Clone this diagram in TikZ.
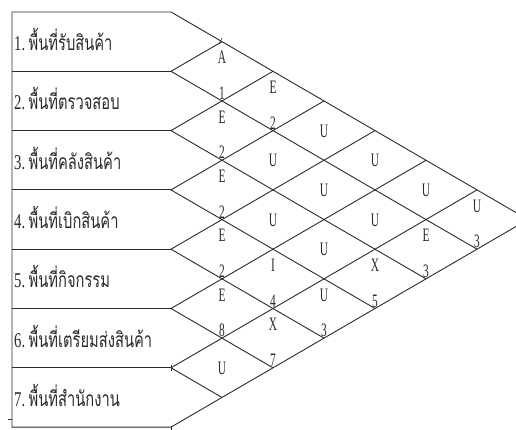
\documentclass[tikz,border=0pt]{standalone}
\usepackage{fontspec}
\setmainfont{Liberation Serif}
\newfontfamily\thaifont[Script=Thai]{Loma}
\definecolor{ink}{HTML}{2A2A2A}
\tikzset{
  gridline/.style={draw=ink, line width=0.9pt},
  cell/.style={inner sep=0pt, text=ink, font=\fontsize{19}{19}\selectfont},
  rowlab/.style={inner sep=0pt, text=ink, anchor=base west, font=\fontsize{21}{21}\selectfont},
}
\newcommand{\rowtext}[2]{\scalebox{0.7}[1]{#1\kern5pt{\thaifont #2}}}
\newcommand{\celltext}[1]{\scalebox{0.6}[1]{#1}}
\begin{document}
\begin{tikzpicture}[x=1pt,y=-1pt]
\useasboundingbox (0,0) rectangle (516,430);
\clip (0,0) rectangle (516,430);
\def\xz{171}\def\yz{12}\def\rh{59.3}\def\dx{51}
% left points and far-left points
\foreach \k in {0,...,7}{
  \coordinate (L\k) at (\xz, {\yz+\rh*\k});
  \coordinate (R\k) at (12, {\yz+\rh*\k});
  \coordinate (U\k) at ({\xz+\dx*\k}, {\yz+\rh*\k/2});
  \coordinate (D\k) at ({\xz+\dx*(7-\k)}, {\yz+\rh*\k+\rh*(7-\k)/2});
}
\coordinate (T) at ({\xz+7*\dx}, {\yz+3.5*\rh});
% outline
\draw[gridline] (R0) -- (L0) -- (T) -- (L7) -- (R7) -- cycle;
\foreach \k in {1,...,6}{
  \draw[gridline] (R\k) -- (L\k);
  \draw[gridline] (U\k) -- (L\k) -- (D\k);
}
% small ticks
\draw[gridline, line width=0.7pt] ([yshift=-3]L6) -- ([yshift=3]L6);
\draw[gridline, line width=0.7pt] ([yshift=-3]L7) -- ([yshift=1]L7);
\draw[gridline, line width=0.7pt] (8,419) -- (12,419);
\draw[gridline, line width=0.6pt] (219,44) -- (222,38);
% row labels
\foreach \k/\t in {1/พื้นที่รับสินค้า, 2/พื้นที่ตรวจสอบ, 3/พื้นที่คลังสินค้า, 4/พื้นที่เบิกสินค้า, 5/พื้นที่กิจกรรม, 6/พื้นที่เตรียมส่งสินค้า, 7/พื้นที่สำนักงาน}{
  \node[rowlab] (row\k) at (14, {\yz+\rh*(\k-0.5)+9}) {\rowtext{\k.}{\t}};
}
% cells with letter and number
\foreach \i/\j/\a/\n in {1/2/A/1, 1/3/E/2, 1/7/U/3, 2/3/E/2, 2/7/E/3, 3/4/E/2, 3/7/X/5, 4/5/E/2, 4/6/I/4, 4/7/U/3, 5/6/E/8, 5/7/X/7}{
  \pgfmathsetmacro\cx{\xz+\dx*(\j-\i)}
  \pgfmathsetmacro\cy{\yz+\rh*(\i+\j-1)/2}
  \node[cell, anchor=base] (a\i\j) at (\cx, \cy-7.5) {\celltext{\a}};
  \node[cell, anchor=base] (n\i\j) at (\cx, \cy+\rh/2-1.5) {\celltext{\n}};
}
% cells with a single letter
\foreach \i/\j/\a in {1/4/U, 1/5/U, 1/6/U, 2/4/U, 2/5/U, 2/6/U, 3/5/U, 3/6/U, 6/7/U}{
  \pgfmathsetmacro\cx{\xz+\dx*(\j-\i)}
  \pgfmathsetmacro\cy{\yz+\rh*(\i+\j-1)/2}
  \node[cell, anchor=base] (a\i\j) at (\cx, \cy+6.5) {\celltext{\a}};
}
\end{tikzpicture}
\end{document}
